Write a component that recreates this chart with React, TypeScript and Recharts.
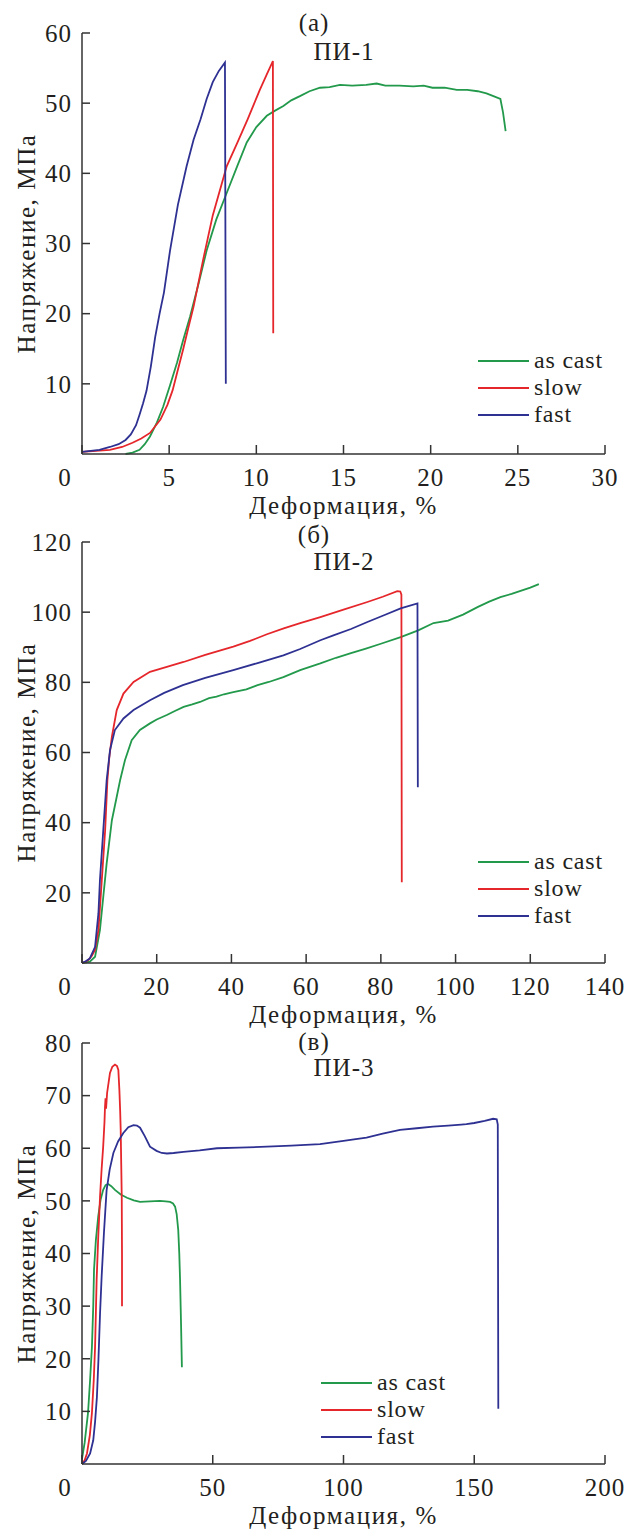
import { LineChart, Line, XAxis, YAxis, Legend, Label } from 'recharts'

const GREEN = '#22994b'
const RED = '#e5262b'
const BLUE = '#2e3192'
const INK = '#231f20'
const AXIS = '#333333'
const FONT = '"Liberation Serif", "Times New Roman", serif'

const seriesNames = ['as cast', 'slow', 'fast']
const seriesColors = [GREEN, RED, BLUE]

// ПИ-1
const pi1XTicks = [0, 5, 10, 15, 20, 25, 30]
const pi1YTicks = [10, 20, 30, 40, 50, 60]
const pi1AsCast = [
  [2.5, 0], [2.9, 0.2], [3.3, 0.6], [3.6, 1.4], [3.9, 2.5], [4.3, 4.5], [4.65, 6.7], [5.05, 9.8],
  [5.45, 13], [5.8, 16.2], [6.2, 19.6], [6.7, 24.4], [7.15, 29], [7.7, 33.4], [8.3, 37.2], [8.9, 41],
  [9.45, 44.4], [10, 46.6], [10.6, 48.2], [11.05, 48.9], [11.55, 49.6], [12, 50.4], [12.5, 51],
  [13.05, 51.7], [13.65, 52.2], [14.2, 52.3], [14.8, 52.6], [15.5, 52.5], [16.3, 52.6], [16.9, 52.8],
  [17.4, 52.5], [18.2, 52.5], [19, 52.4], [19.6, 52.5], [20.1, 52.2], [20.8, 52.2], [21.5, 51.9],
  [22.1, 51.9], [22.7, 51.7], [23.2, 51.4], [23.6, 51], [24, 50.6], [24.15, 48.7], [24.3, 46],
]
const pi1Slow = [
  [0, 0.3], [0.8, 0.45], [1.6, 0.6], [2.3, 1], [2.9, 1.6], [3.4, 2.2], [3.9, 3], [4.5, 4.9], [4.9, 7],
  [5.2, 9.1], [5.5, 12], [5.8, 14.9], [6.1, 18], [6.4, 21], [6.95, 27.7], [7.5, 34], [8.3, 41],
  [8.9, 44.3], [9.5, 47.7], [10.2, 51.9], [10.6, 54.1], [10.95, 56], [10.97, 17.2],
]
const pi1Fast = [
  [0, 0.3], [1, 0.6], [1.6, 1], [2.1, 1.4], [2.5, 2], [2.8, 2.8], [3.1, 4.1], [3.3, 5.6], [3.5, 7.2],
  [3.7, 9], [3.95, 12.5], [4.2, 16.7], [4.45, 20], [4.7, 23], [5.05, 29], [5.5, 35.5], [6, 41],
  [6.4, 44.8], [6.8, 47.7], [7.15, 50.6], [7.5, 53], [7.85, 54.6], [8.2, 55.8], [8.25, 10],
]

// ПИ-2
const pi2XTicks = [0, 20, 40, 60, 80, 100, 120, 140]
const pi2YTicks = [20, 40, 60, 80, 100, 120]
const pi2AsCast = [
  [0, 0], [2.1, 0.4], [3.5, 1.8], [4.8, 9.4], [5.7, 18.9], [6.6, 28.4], [8, 40.7], [9.3, 47.4],
  [10.2, 52.1], [11.5, 57.8], [13.3, 63.5], [15.5, 66.4], [18.2, 68.3], [20, 69.4], [22.7, 70.7],
  [25, 71.9], [27.2, 73], [29.5, 73.7], [31.6, 74.4], [34, 75.5], [36, 75.9], [38, 76.6], [40.5, 77.2],
  [44, 78], [47, 79.2], [50, 80.1], [53.9, 81.5], [58.4, 83.5], [63.8, 85.4], [68, 87], [72, 88.3],
  [76, 89.6], [80, 91], [85.3, 92.9], [90, 94.8], [94.1, 96.9], [98, 97.6], [102, 99.3], [106, 101.5],
  [109, 103], [112, 104.3], [115, 105.2], [118, 106.3], [120, 107], [122.3, 108],
]
const pi2Slow = [
  [0, 0], [0.8, 0.3], [1.7, 0.85], [2.6, 2], [3.5, 3.7], [4.4, 9.4], [5.3, 23.6], [6.2, 37.9],
  [6.8, 52.1], [7.3, 58.5], [8, 64.5], [9.3, 72.1], [11.1, 76.8], [13.8, 80.1], [18.2, 83],
  [22.7, 84.4], [27.2, 85.8], [33, 87.8], [40.5, 90.2], [45, 91.8], [49.5, 93.7], [54, 95.4],
  [58.4, 96.9], [63.8, 98.6], [70, 100.7], [76.4, 102.9], [80.5, 104.4], [84.4, 106], [85.2, 105.9],
  [85.5, 105], [85.6, 23],
]
const pi2Fast = [
  [0, 0], [1, 0.5], [2.1, 1.3], [3.5, 4.6], [4.4, 14.2], [4.8, 23.6], [5.7, 37.9], [6.6, 52.1],
  [7.5, 60.7], [8.8, 66.4], [11.1, 69.7], [13.8, 72.1], [18.2, 74.9], [22, 77], [27, 79.2], [33, 81.3],
  [40.5, 83.5], [47, 85.5], [53.9, 87.7], [58.4, 89.5], [63.8, 92], [67.3, 93.4], [72, 95.2],
  [76.4, 97.2], [81, 99.2], [85.3, 101.1], [89.8, 102.5], [89.9, 50.1],
]

// ПИ-3
const pi3XTicks = [0, 50, 100, 150, 200]
const pi3YTicks = [10, 20, 30, 40, 50, 60, 70, 80]
const pi3AsCast = [
  [0, 1], [1, 4], [2.3, 9.7], [3.1, 16], [3.8, 22.3], [4.3, 30], [4.6, 36.9], [5.3, 42.5], [6.2, 47],
  [7.1, 50.2], [8.1, 52.1], [9, 53], [10, 53.2], [11.2, 52.8], [12.6, 52.1], [14.8, 51.2], [17.2, 50.6],
  [19.8, 50.1], [22.2, 49.8], [26, 49.9], [29.8, 50], [32, 49.9], [33.7, 49.8], [34.8, 49.5],
  [35.6, 48.9], [36.2, 47.5], [36.8, 44.5], [37.2, 40], [37.5, 35], [37.9, 26], [38.2, 18.4],
]
const pi3Slow = [
  [0, 0], [1, 0.7], [1.9, 2], [3, 5.5], [3.8, 9.7], [4.5, 16], [5, 22.3], [5.6, 35], [6.2, 43],
  [6.9, 50.8], [7.5, 56], [8.1, 60.3], [8.6, 65], [8.8, 67.9], [9, 69.5], [9.2, 67.5], [9.6, 70.5],
  [10.7, 74.3], [11.6, 75.5], [12.6, 75.9], [13.4, 75.6], [13.9, 74.9], [14.3, 71], [14.6, 67],
  [14.8, 63.5], [15, 57], [15.2, 50.8], [15.3, 40], [15.3, 30],
]
const pi3Fast = [
  [0, 0], [1.5, 0.6], [3.1, 2], [4.3, 4.5], [5, 8], [5.7, 12.7], [6.3, 20], [6.9, 28.6], [7.5, 35.5],
  [8.4, 44], [9.4, 52], [10.6, 56], [12, 59.1], [13.8, 61.3], [15.8, 62.9], [17.7, 64], [19.7, 64.4],
  [21, 64.3], [22.2, 63.9], [24, 62.3], [26, 60.3], [28.5, 59.5], [30.5, 59.1], [32.5, 59], [35, 59.1],
  [38.8, 59.3], [45, 59.6], [51.6, 60], [60, 60.1], [70.7, 60.3], [80, 60.5], [91, 60.8], [100, 61.4],
  [104, 61.7], [108.8, 62], [115, 62.8], [121.6, 63.5], [128, 63.8], [134.2, 64.1], [140, 64.3],
  [145, 64.5], [147, 64.6], [150, 64.8], [154, 65.2], [157.2, 65.6], [158.6, 65.5], [159, 64.5],
  [159.2, 10.5],
]

const toPts = (a: number[][]) => a.map(([x, y]) => ({ x, y }))

const tickStyle = { fontFamily: FONT, fill: INK, letterSpacing: 1 }
const labelStyle = { fontFamily: FONT, fill: INK, letterSpacing: 1.6 }

const xTick = (p: any) => (
  <text
    x={p.payload.value === 0 ? p.x - 17 : p.x}
    y={p.y}
    dy="0.35em"
    textAnchor="middle"
    fontSize={25}
    style={tickStyle}
  >
    {p.payload.value}
  </text>
)

const yTick = (p: any) => (
  <text x={p.x} y={p.y} dy="0.35em" textAnchor="end" fontSize={25} style={tickStyle}>
    {p.payload.value}
  </text>
)

// keep legend rows in series order (Recharts sorts by name otherwise)
const legendContent = (props: any) => {
  const items = [...(props.payload || [])].sort(
    (a: any, b: any) => seriesNames.indexOf(a.value) - seriesNames.indexOf(b.value)
  )
  return (
    <div>
      {items.map((e: any) => (
        <div key={e.value} style={{ display: 'flex', alignItems: 'center', height: 27 }}>
          <svg width={51} height={4}>
            <line x1={0} y1={2} x2={51} y2={2} stroke={e.color} strokeWidth={2} />
          </svg>
          <span style={{ marginLeft: 5, fontSize: 24, color: INK, fontFamily: FONT, letterSpacing: 0.8, lineHeight: '27px' }}>
            {e.value}
          </span>
        </div>
      ))}
    </div>
  )
}

interface PanelProps {
  top: number
  height: number
  marginTop: number
  marginBottom: number
  xMax: number
  xTicks: number[]
  yMax: number
  yTicks: number[]
  series: number[][][]
  legendLeft: number
  legendTop: number
}

function Panel(p: PanelProps) {
  return (
    <div style={{ position: 'absolute', left: 0, top: p.top, width: 628, height: p.height }}>
      <LineChart
        width={628}
        height={p.height}
        margin={{ top: p.marginTop, right: 23, left: 0, bottom: p.marginBottom }}
      >
        <XAxis
          type="number"
          dataKey="x"
          domain={[0, p.xMax]}
          ticks={p.xTicks}
          interval={0}
          height={60}
          tickSize={-9}
          tickMargin={32}
          stroke={AXIS}
          strokeWidth={1.5}
          tick={xTick}
        >
          <Label
            content={({ viewBox }: any) => (
              <text
                x={viewBox.x + viewBox.width / 2}
                y={viewBox.y + 51}
                dy="0.35em"
                textAnchor="middle"
                fontSize={25}
                style={labelStyle}
              >
                Деформация, %
              </text>
            )}
          />
        </XAxis>
        <YAxis
          type="number"
          dataKey="y"
          domain={[0, p.yMax]}
          ticks={p.yTicks}
          interval={0}
          width={82}
          tickSize={-8}
          tickMargin={18}
          stroke={AXIS}
          strokeWidth={1.5}
          tick={yTick}
        >
          <Label
            content={({ viewBox }: any) => {
              const cx = 26
              const cy = viewBox.y + viewBox.height / 2
              return (
                <text
                  x={cx}
                  y={cy}
                  dy="0.35em"
                  textAnchor="middle"
                  fontSize={25}
                  transform={`rotate(-90, ${cx}, ${cy})`}
                  style={labelStyle}
                >
                  Напряжение, МПа
                </text>
              )
            }}
          />
        </YAxis>
        {p.series.map((s, i) => (
          <Line
            key={seriesNames[i]}
            data={toPts(s)}
            dataKey="y"
            name={seriesNames[i]}
            type="linear"
            stroke={seriesColors[i]}
            strokeWidth={1.8}
            dot={false}
            activeDot={false}
            isAnimationActive={false}
          />
        ))}
        <Legend
          layout="vertical"
          align="center"
          verticalAlign="middle"
          content={legendContent}
          wrapperStyle={{ left: p.legendLeft, top: p.legendTop, right: 'auto', bottom: 'auto', width: 'auto' }}
        />
      </LineChart>
    </div>
  )
}

const titleStyle = (x: number, y: number) => ({
  position: 'absolute' as const,
  left: x,
  top: y,
  transform: 'translate(-50%, -50%)',
  fontFamily: FONT,
  fontSize: 25,
  lineHeight: 1,
  color: INK,
  letterSpacing: 1,
  whiteSpace: 'nowrap' as const,
})

export default function App() {
  return (
    <div style={{ position: 'absolute', left: 0, top: 0, width: 628, height: 1529, background: '#fff' }}>
      <Panel
        top={0}
        height={530}
        marginTop={33}
        marginBottom={16}
        xMax={30}
        xTicks={pi1XTicks}
        yMax={60}
        yTicks={pi1YTicks}
        series={[pi1AsCast, pi1Slow, pi1Fast]}
        legendLeft={478}
        legendTop={347}
      />
      <Panel
        top={530}
        height={510}
        marginTop={12}
        marginBottom={17}
        xMax={140}
        xTicks={pi2XTicks}
        yMax={120}
        yTicks={pi2YTicks}
        series={[pi2AsCast, pi2Slow, pi2Fast]}
        legendLeft={478}
        legendTop={318}
      />
      <Panel
        top={1025}
        height={504}
        marginTop={18}
        marginBottom={5}
        xMax={200}
        xTicks={pi3XTicks}
        yMax={80}
        yTicks={pi3YTicks}
        series={[pi3AsCast, pi3Slow, pi3Fast]}
        legendLeft={321}
        legendTop={344}
      />
      <div style={titleStyle(314, 22)}>(а)</div>
      <div style={titleStyle(344, 51)}>ПИ-1</div>
      <div style={titleStyle(314, 534)}>(б)</div>
      <div style={titleStyle(344, 561)}>ПИ-2</div>
      <div style={titleStyle(314, 1041)}>(в)</div>
      <div style={titleStyle(344, 1067)}>ПИ-3</div>
    </div>
  )
}
